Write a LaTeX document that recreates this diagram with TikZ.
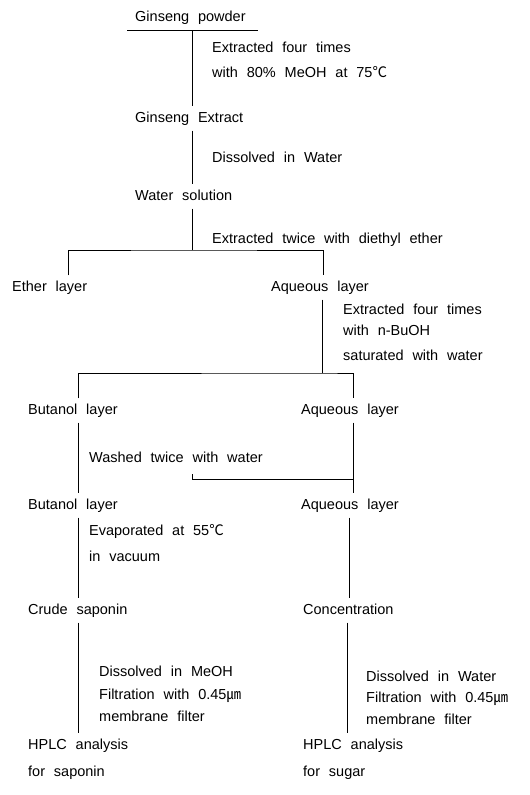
\documentclass[tikz,border=0pt]{standalone}
\usepackage{fontspec}
\setmainfont[WordSpace=2.2]{Liberation Sans}
\newfontfamily\cjk{Noto Sans CJK KR}
\newcommand{\degC}{{\cjk ℃}}
\newcommand{\umicro}{{\cjk ㎛}}
\usepackage{tikz}
\tikzset{
  lbl/.style={anchor=base west,inner xsep=0pt,inner ysep=5.5pt,text height=10pt,text depth=3pt},
  flow/.style={line width=.9pt}
}

\begin{document}
\begin{tikzpicture}[x=1pt,y=-1pt,font=\fontsize{14.5}{16}\selectfont]
\useasboundingbox(0,0)rectangle(530,795);
%columns and forks
\coordinate (trunk) at (192,0);
\coordinate (bcol) at (78,0);
\coordinate (acol) at (353,0);
\coordinate (fork1) at (192,250);
\coordinate (fork2) at (322,373);
\coordinate (wash) at (192,474);
\coordinate (join) at (353,479);
%products
\node[lbl] (gpow) at (135,21.5) {Ginseng powder};
\node[lbl] (gext) at (135,122) {Ginseng Extract};
\node[lbl] (wsol) at (135,200) {Water solution};
\node[lbl] (ethl) at (12,291) {Ether layer};
\node[lbl] (aql1) at (271,291) {Aqueous layer};
\node[lbl] (bul1) at (28,414) {Butanol layer};
\node[lbl] (aql2) at (301,414) {Aqueous layer};
\node[lbl] (bul2) at (28,509) {Butanol layer};
\node[lbl] (aql3) at (301,509) {Aqueous layer};
\node[lbl] (crsap) at (28,614) {Crude saponin};
\node[lbl] (conc) at (303,614) {Concentration};
\node[lbl] (hplc1) at (28,749) {HPLC analysis};
\node[lbl] (for1) at (28,776) {for saponin};
\node[lbl] (hplc2) at (303,749) {HPLC analysis};
\node[lbl] (for2) at (303,776) {for sugar};
%steps
\node[lbl] (st1a) at (212,52.5) {Extracted four times};
\node[lbl] (st1b) at (212,77) {with 80\% MeOH at 75\degC};
\node[lbl] (st2) at (212,162) {Dissolved in Water};
\node[lbl] (st3) at (212,243) {Extracted twice with diethyl ether};
\node[lbl] (st4a) at (343,314) {Extracted four times};
\node[lbl] (st4b) at (343,335) {with n-BuOH};
\node[lbl] (st4c) at (343,360) {saturated with water};
\node[lbl] (st5) at (89,462) {Washed twice with water};
\node[lbl] (st6a) at (89,535) {Evaporated at 55\degC};
\node[lbl] (st6b) at (89,561.5) {in vacuum};
\node[lbl] (st7a) at (99,676) {Dissolved in MeOH};
\node[lbl] (st7b) at (99,699) {Filtration with 0.45\umicro};
\node[lbl] (st7c) at (99,721) {membrane filter};
\node[lbl] (st8a) at (366,681) {Dissolved in Water};
\node[lbl] (st8b) at (366,702) {Filtration with 0.45\umicro};
\node[lbl] (st8c) at (366,724) {membrane filter};
%flow lines
\draw[flow]([xshift=-8pt]gpow.south west)--([xshift=12pt]gpow.south east);
\draw[flow](gpow.south -| trunk)--(gext.north -| trunk);
\draw[flow](gext.south -| trunk)--(wsol.north -| trunk);
\draw[flow](wsol.south -| trunk)--(fork1);
\draw[flow](ethl.north -| 68,0) |- (fork1) -| (aql1.north -| 323,0);
\draw[flow](aql1.south -| fork2)--(fork2);
\draw[flow](bul1.north -| bcol) |- (fork2) -| (aql2.north -| acol);
\draw[flow](bul1.south -| bcol)--(bul2.north -| bcol);
\draw[flow](aql2.south -| acol)--(aql3.north -| acol);
\draw[flow](wash) |- (join);
\draw[flow](bul2.south -| bcol)--(crsap.north -| bcol);
\draw[flow](aql3.south -| 349,0)--(conc.north -| 349,0);
\draw[flow](crsap.south -| bcol)--(hplc1.north -| bcol);
\draw[flow](conc.south -| 347,0)--(hplc2.north -| 347,0);
\end{tikzpicture}
\end{document}
